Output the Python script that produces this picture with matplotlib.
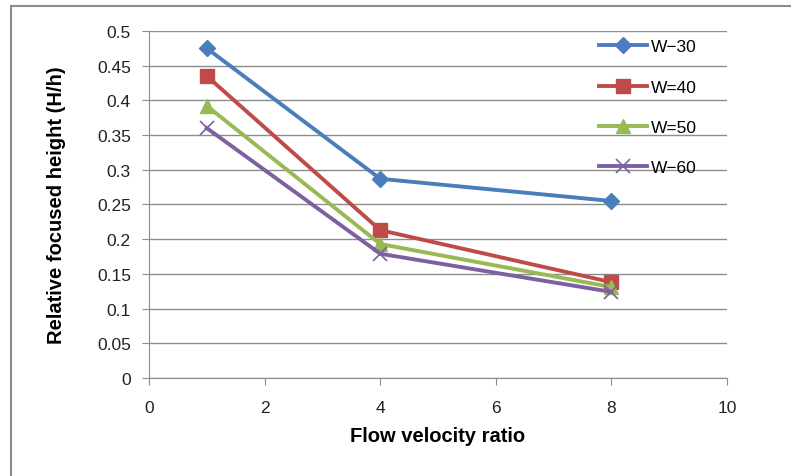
import matplotlib

matplotlib.use("Agg")

import matplotlib.pyplot as plt
from matplotlib.lines import Line2D

# data
velocity_ratio = [1, 4, 8]
w30 = [0.475, 0.287, 0.255]
w40 = [0.435, 0.213, 0.138]
w50 = [0.392, 0.193, 0.131]
w60 = [0.360, 0.179, 0.124]
series_labels = ["W\u221230", "W=40", "W=50", "W\u221260"]

x_ticks = [0, 2, 4, 6, 8, 10]
y_ticks = [0, 0.05, 0.1, 0.15, 0.2, 0.25, 0.3, 0.35, 0.4, 0.45, 0.5]
y_tick_labels = ["0", "0.05", "0.1", "0.15", "0.2", "0.25", "0.3", "0.35", "0.4", "0.45", "0.5"]

plt.rcParams["font.family"] = ["Liberation Sans", "DejaVu Sans"]

fig = plt.figure(figsize=(7.91, 4.77), dpi=100)
ax = fig.add_axes([0.1884, 0.2055, 0.7307, 0.7275])

styles = [
    dict(color="#4A7EBB", marker="D", markersize=8),
    dict(color="#BE4B48", marker="s", markersize=10),
    dict(color="#98B954", marker="^", markersize=10),
    dict(color="#7D60A0", marker="x", markersize=10, markeredgewidth=1.2),
]
for values, label, style in zip([w30, w40, w50, w60], series_labels, styles):
    ax.plot(velocity_ratio, values, linewidth=2.8, label=label, zorder=3, **style)

ax.set_xlim(0, 10)
ax.set_ylim(0, 0.5)
ax.set_xticks(x_ticks)
ax.set_yticks(y_ticks)
ax.set_yticklabels(y_tick_labels)
ax.grid(axis="y", color="#8C8C8C", linewidth=1.0)
ax.set_axisbelow(True)
for side in ["top", "right"]:
    ax.spines[side].set_visible(False)
for side in ["left", "bottom"]:
    ax.spines[side].set_color("#8C8C8C")
ax.tick_params(axis="both", colors="#8C8C8C", labelcolor="#222222",
               labelsize=12.5, length=5, direction="out")
ax.tick_params(axis="y", pad=8)
ax.tick_params(axis="x", pad=11)

ax.set_xlabel("Flow velocity ratio", fontsize=14.5, fontweight="bold", labelpad=8)
ax.set_ylabel("Relative focused height (H/h)", fontsize=14.5, fontweight="bold", labelpad=22)

ax.legend(loc="upper left", bbox_to_anchor=(0.748, 0.93), bbox_transform=fig.transFigure,
          frameon=False, fontsize=12.5, handlelength=2.8, labelspacing=1.45,
          handletextpad=0.2, borderaxespad=0)

# outer chart border (top and left edges only visible)
fig.add_artist(Line2D([11 / 791, 1], [1 - 7 / 477, 1 - 7 / 477], color="#8C8C8C",
                      linewidth=1.5, transform=fig.transFigure))
fig.add_artist(Line2D([11 / 791, 11 / 791], [0, 1 - 7 / 477], color="#8C8C8C",
                      linewidth=1.5, transform=fig.transFigure))

fig.savefig("out.png", dpi=100)
